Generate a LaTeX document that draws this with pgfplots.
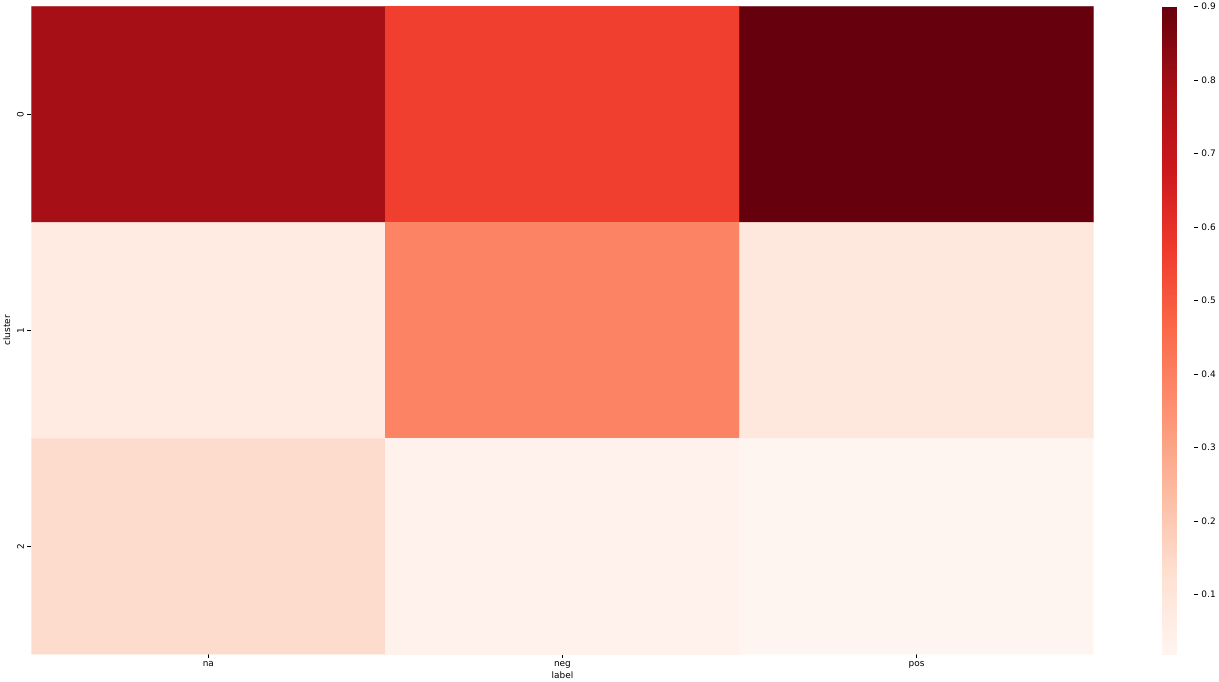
\documentclass[border=0pt]{standalone}
\usepackage{pgfplots}
\pgfplotsset{compat=1.18}
\usepackage{fontspec}
\setmainfont{DejaVu Sans}
\begin{document}
\begin{tikzpicture}
\pgfplotsset{
  colormap={Reds}{rgb255=(255,245,240) rgb255=(254,224,210) rgb255=(252,187,161)
    rgb255=(252,146,114) rgb255=(251,106,74) rgb255=(239,59,44)
    rgb255=(203,24,29) rgb255=(165,15,21) rgb255=(103,0,13)}
}
\begin{axis}[
  width=1070pt, height=652pt, scale only axis,
  xmin=-0.5, xmax=2.5, ymin=-0.5, ymax=2.5, y dir=reverse,
  enlargelimits=false,
  xtick={0,1,2}, xticklabels={na,neg,pos},
  ytick={0,1,2}, yticklabels={0,1,2},
  xtick pos=bottom, ytick pos=left,
  yticklabel style={rotate=90, anchor=south},
  xlabel={label}, ylabel={cluster},
  xlabel style={yshift=4pt},
  axis line style={draw=none},
  tick align=outside, major tick length=4pt, tick style={black, thin},
  font=\fontsize{9}{11}\selectfont,
  /pgf/number format/assume math mode=true,
  colormap name=Reds,
  point meta min=0.019, point meta max=0.9,
  colorbar,
  colorbar style={
    width=32pt, at={(1.0645,1)}, anchor=north west,
    ytick={0.1,0.2,0.3,0.4,0.5,0.6,0.7,0.8,0.9},
    ytick pos=right, xtick=\empty,
    yticklabel style={/pgf/number format/fixed, /pgf/number format/precision=1,
      /pgf/number format/assume math mode=true,
      font=\fontsize{9}{11}\selectfont},
    axis line style={draw=none},
    tick align=outside, major tick length=4pt, tick style={black, thin},
  },
]
\addplot[matrix plot*, mesh/cols=3, point meta=explicit] table[meta=v] {
x y v
0 0 0.79
1 0 0.56
2 0 0.90
0 1 0.07
1 1 0.39
2 1 0.09
0 2 0.14
1 2 0.035
2 2 0.019
};
\end{axis}
\end{tikzpicture}
\end{document}
